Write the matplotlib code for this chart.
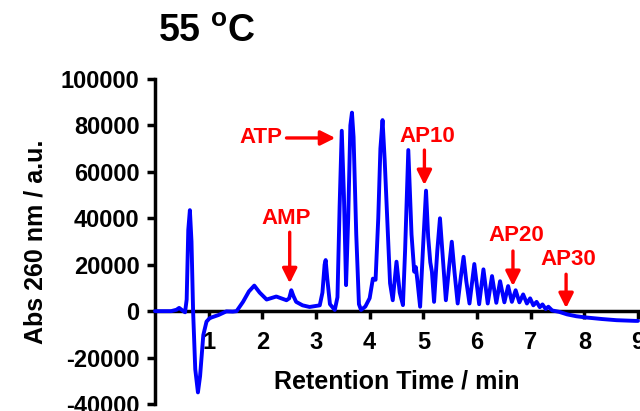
import matplotlib
matplotlib.use("Agg")
import matplotlib.pyplot as plt

# ---- data ----
retention_time = [0.00, 0.30, 0.40, 0.45, 0.50, 0.56, 0.59, 0.62, 0.65, 0.68,
                  0.71, 0.75, 0.80, 0.84, 0.90, 0.96, 1.02, 1.08, 1.18, 1.33,
                  1.45, 1.52, 1.64, 1.75, 1.85, 1.95, 2.08, 2.26, 2.45, 2.50,
                  2.54, 2.58, 2.63, 2.75, 2.88, 3.07, 3.12, 3.16, 3.18, 3.21,
                  3.26, 3.35, 3.40, 3.44, 3.48, 3.52, 3.56, 3.60, 3.64, 3.67,
                  3.70, 3.75, 3.80, 3.84, 3.92, 4.00, 4.06, 4.11, 4.16, 4.20,
                  4.24, 4.28, 4.34, 4.38, 4.43, 4.50, 4.56, 4.62, 4.66, 4.72,
                  4.78, 4.83, 4.86, 4.89, 4.94, 5.00, 5.05, 5.09, 5.13, 5.16,
                  5.20, 5.26, 5.31, 5.36, 5.42, 5.48, 5.53, 5.58, 5.64, 5.70,
                  5.75, 5.80, 5.86, 5.95, 6.04, 6.12,
                  6.20, 6.28, 6.36, 6.43, 6.51, 6.58, 6.65, 6.72, 6.79, 6.86,
                  6.93, 6.99, 7.05, 7.11, 7.17, 7.22, 7.28, 7.33, 7.40, 7.53,
                  7.68, 7.85, 8.02, 8.33, 8.60, 8.95, 9.00]
absorbance = [0, 0, 600, 1400, 500, -500, 5000, 35000, 43500, 30000,
              0, -25000, -35000, -28000, -10300, -4500, -3000, -2500, -1700, -100,
              -200, 0, 4000, 8500, 11000, 8000, 5000, 6300, 4700, 5500,
              9000, 6500, 4000, 2500, 1800, 2500, 8000, 20000, 22000, 14000,
              3000, 500, 6000, 45000, 77700, 50000, 11200, 40000, 80000, 85500,
              75000, 33000, 3000, 500, 2000, 5600, 14000, 13500, 40000, 70000,
              82300, 65000, 33000, 12000, 4700, 21300, 8000, 2600, 26000, 69400,
              33000, 17000, 19000, 13000, 1900, 30000, 51900, 32000, 21000, 17000,
              4000, 26000, 40000, 24000, 4700, 19000, 29900, 17000, 3300, 15000,
              23400, 13000, 3300, 20300, 3000, 18000,
              3300, 15100, 3600, 12900, 3800, 10800, 4000, 9000, 3800, 7200,
              3300, 5500, 2500, 4000, 1700, 2900, 900, 1900, 300, -300,
              -1400, -2200, -2700, -3400, -3900, -4200, -4200]

x_ticks = [1, 2, 3, 4, 5, 6, 7, 8, 9]
y_ticks = [-40000, -20000, 0, 20000, 40000, 60000, 80000, 100000]

# annotations: label, text position, arrow tail, arrow head
ann_labels = ["ATP", "AMP", "AP10", "AP20", "AP30"]
ann_text_xy = [(2.38, 74600), (2.45, 40000), (5.07, 75400), (6.73, 32800), (7.71, 22400)]
ann_text_ha = ["right", "center", "center", "center", "center"]
ann_tail = [(2.45, 74600), (2.51, 34000), (5.02, 69400), (6.67, 25900), (7.66, 15900)]
ann_head = [(3.36, 74600), (2.51, 12000), (5.02, 54300), (6.67, 10800), (7.66, 1300)]

plt.rcParams['font.family'] = ['Liberation Sans', 'DejaVu Sans']
plt.rcParams['font.weight'] = 'bold'
plt.rcParams['mathtext.fontset'] = 'custom'
plt.rcParams['mathtext.rm'] = 'Liberation Sans:bold'
plt.rcParams['mathtext.bf'] = 'Liberation Sans:bold'

fig = plt.figure(figsize=(6.4, 4.11), dpi=100)
ax = fig.add_axes([155 / 640, 1 - 404 / 411, (638 - 155) / 640, (404 - 79) / 411])

ax.plot(retention_time, absorbance, color='#0000ff', lw=2.8,
        solid_joinstyle='round', solid_capstyle='round', clip_on=False, zorder=3)

ax.set_xlim(0, 9)
ax.set_ylim(-40000, 100000)
ax.set_xticks(x_ticks)
ax.set_yticks(y_ticks)
ax.set_xticklabels([str(v) for v in x_ticks])
ax.set_yticklabels([str(v) for v in y_ticks])

for s in ['top', 'right']:
    ax.spines[s].set_visible(False)
ax.spines['bottom'].set_position(('data', 0))
for s in ['left', 'bottom']:
    ax.spines[s].set_linewidth(2.5)
    ax.spines[s].set_color('black')
ax.spines['bottom'].set_zorder(2)

ax.tick_params(axis='both', direction='out', length=5.5, width=2.5,
               labelsize=17, colors='black')
ax.tick_params(axis='y', pad=5.5)
ax.tick_params(axis='x', pad=9)
for lab in ax.get_xticklabels() + ax.get_yticklabels():
    lab.set_fontweight('bold')

ax.set_xlabel("Retention Time / min", fontsize=18, fontweight='bold', va='center')
ax.xaxis.set_label_coords(0.5, (404 - 381) / 325)
ax.set_ylabel("Abs 260 nm / a.u.", fontsize=18, fontweight='bold', va='center')
ax.yaxis.set_label_coords((36 - 155) / 483, 0.5)

fig.text(207 / 640, 1 - 32 / 411, r"55 $^{\mathbf{o}}$C", fontsize=27,
         fontweight='bold', ha='center', va='center')

for lab, txy, ha, tail, head in zip(ann_labels, ann_text_xy, ann_text_ha, ann_tail, ann_head):
    ax.text(txy[0], txy[1], lab, color='#ff0000', fontsize=16, fontweight='bold',
            ha=ha, va='center', zorder=5)
    ax.annotate('', xy=head, xytext=tail,
                arrowprops=dict(arrowstyle='-|>', color='#ff0000', lw=2.4,
                                mutation_scale=22, shrinkA=0, shrinkB=0),
                zorder=5)

fig.savefig("out.png", dpi=100)
